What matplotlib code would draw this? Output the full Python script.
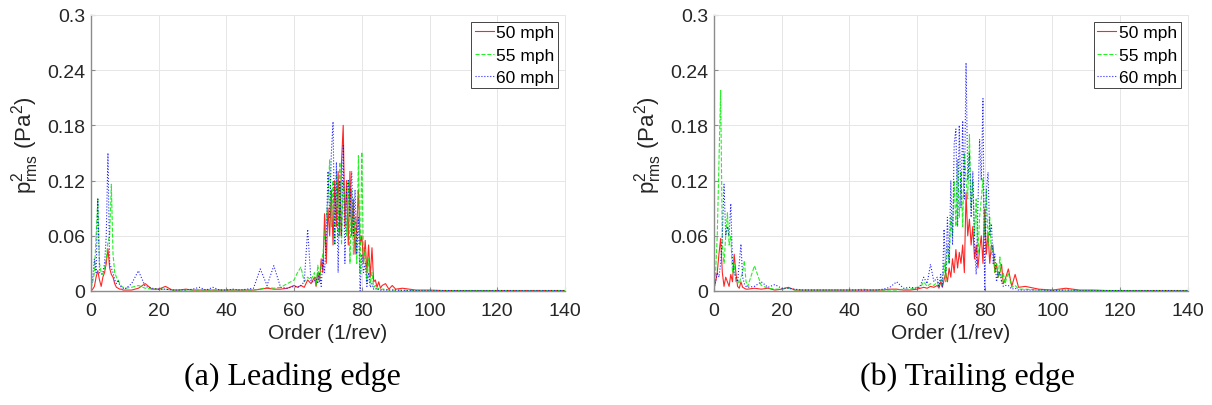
# Pressure spectra vs order, leading edge / trailing edge, three speeds

import numpy as np
import matplotlib
matplotlib.use('Agg')
import matplotlib.pyplot as plt

plt.rcParams['font.family'] = ['Liberation Sans', 'DejaVu Sans']
plt.rcParams['mathtext.fontset'] = 'custom'
plt.rcParams['mathtext.rm'] = 'Liberation Sans'
plt.rcParams['mathtext.it'] = 'Liberation Sans'

# %%
# Order grid (finer where the spectra are busy)
order = np.concatenate([np.arange(0, 10.5, 0.5),    # 0..10   (21)
                        np.arange(12, 61, 2),        # 12..60  (25)
                        np.arange(61, 66, 1),        # 61..65  (5)
                        np.arange(66, 86.5, 0.5),    # 66..86  (41)
                        np.arange(87, 91, 1),        # 87..90  (4)
                        np.arange(92, 141, 4)])      # 92..140 (13)

speeds = ['50 mph', '55 mph', '60 mph']
captions = ['(a) Leading edge', '(b) Trailing edge']

# %%
# Leading edge values
le_50 = ([0, 0.002, 0.005, 0.015, 0.022, 0.012, 0.005, 0.015, 0.02, 0.03,
          0.046, 0.025, 0.018, 0.015, 0.008, 0.004, 0.003, 0.002, 0.002,
          0.001, 0.001]
         + [0.001, 0.003, 0.008, 0.002, 0.002, 0.005, 0.001, 0.001, 0.002,
            0.001, 0.001, 0.001, 0.001, 0.001, 0.001, 0.001, 0.001, 0.001,
            0.001, 0.002, 0.003, 0.002, 0.002, 0.003, 0.006]
         + [0.004, 0.006, 0.004, 0.012, 0.008]
         + [0.015, 0.005, 0.02, 0.01, 0.035, 0.02, 0.084, 0.03, 0.09, 0.06,
            0.11, 0.05, 0.12, 0.07, 0.13, 0.06, 0.14, 0.18, 0.07, 0.12,
            0.05, 0.13, 0.06, 0.10, 0.04, 0.07, 0.11, 0.05, 0.06, 0.03,
            0.055, 0.02, 0.05, 0.015, 0.047, 0.01, 0.012, 0.004, 0.01,
            0.003, 0.006]
         + [0.008, 0.002, 0.006, 0.002]
         + [0.003, 0.001, 0.001, 0.0005, 0.0005, 0.0005, 0.0005, 0.0005,
            0.0005, 0.0005, 0.0005, 0.0005, 0.0005])

le_55 = ([0.003, 0.01, 0.02, 0.06, 0.10, 0.03, 0.02, 0.018, 0.025, 0.035,
          0.053, 0.06, 0.116, 0.04, 0.02, 0.015, 0.012, 0.008, 0.005,
          0.004, 0.003]
         + [0.004, 0.006, 0.003, 0.002, 0.002, 0.002, 0.001, 0.001, 0.001,
            0.001, 0.001, 0.001, 0.001, 0.001, 0.001, 0.001, 0.001, 0.001,
            0.001, 0.002, 0.004, 0.003, 0.004, 0.008, 0.012]
         + [0.02, 0.026, 0.01, 0.015, 0.012]
         + [0.02, 0.006, 0.028, 0.01, 0.03, 0.04, 0.06, 0.08, 0.10, 0.143,
            0.07, 0.12, 0.05, 0.13, 0.06, 0.14, 0.05, 0.12, 0.10, 0.06,
            0.12, 0.03, 0.11, 0.04, 0.08, 0.03, 0.147, 0.02, 0.151, 0.03,
            0.045, 0.01, 0.035, 0.008, 0.02, 0.004, 0.006, 0.002, 0.003,
            0.001, 0.002]
         + [0.002, 0.001, 0.001, 0.001]
         + [0.001, 0.0005, 0.0005, 0.0005, 0.0005, 0.0005, 0.0005, 0.0005,
            0.0005, 0.0005, 0.0005, 0.0005, 0.0005])

le_60 = ([0.002, 0.015, 0.035, 0.02, 0.10, 0.02, 0.018, 0.02, 0.03, 0.06,
          0.15, 0.03, 0.025, 0.02, 0.012, 0.008, 0.012, 0.006, 0.004,
          0.003, 0.002]
         + [0.008, 0.022, 0.005, 0.003, 0.002, 0.002, 0.001, 0.001, 0.001,
            0.002, 0.004, 0.001, 0.004, 0.001, 0.001, 0.002, 0.001, 0.002,
            0.003, 0.024, 0.006, 0.0275, 0.004, 0.003, 0.005]
         + [0.004, 0.006, 0.01, 0.067, 0.01]
         + [0.01, 0.015, 0.008, 0.02, 0.005, 0.035, 0.02, 0.06, 0.13, 0.08,
            0.15, 0.184, 0.05, 0.14, 0.02, 0.12, 0.06, 0.158, 0.03, 0.11,
            0.12, 0.08, 0.13, 0.06, 0.11, 0.04, 0.08, 0.0, 0.04, 0.02,
            0.03, 0.005, 0.02, 0.004, 0.008, 0.002, 0.003, 0.001, 0.002,
            0.001, 0.001]
         + [0.001, 0.001, 0.001, 0.001]
         + [0.0005, 0.0005, 0.0005, 0.0005, 0.0005, 0.0005, 0.0005, 0.0005,
            0.0005, 0.0005, 0.0005, 0.0005, 0.0005])

# %%
# Trailing edge values
te_50 = ([0.002, 0.01, 0.02, 0.04, 0.057, 0.02, 0.005, 0.015, 0.01, 0.005,
          0.018, 0.01, 0.04, 0.02, 0.005, 0.003, 0.01, 0.004, 0.003,
          0.002, 0.002]
         + [0.003, 0.002, 0.003, 0.001, 0.002, 0.004, 0.001, 0.001, 0.001,
            0.001, 0.001, 0.001, 0.001, 0.001, 0.001, 0.001, 0.001, 0.001,
            0.001, 0.001, 0.002, 0.002, 0.001, 0.001, 0.002]
         + [0.003, 0.004, 0.003, 0.005, 0.004]
         + [0.006, 0.003, 0.01, 0.004, 0.012, 0.02, 0.01, 0.025, 0.015,
            0.035, 0.02, 0.045, 0.025, 0.042, 0.03, 0.05, 0.02, 0.107,
            0.06, 0.078, 0.05, 0.07, 0.035, 0.05, 0.025, 0.045, 0.06, 0.03,
            0.089, 0.04, 0.063, 0.03, 0.05, 0.046, 0.02, 0.03, 0.015, 0.02,
            0.029, 0.008, 0.012]
         + [0.024, 0.005, 0.018, 0.004]
         + [0.005, 0.002, 0.001, 0.003, 0.001, 0.001, 0.0005, 0.0005,
            0.0005, 0.0005, 0.0005, 0.0005, 0.0005])

te_55 = ([0.003, 0.02, 0.06, 0.14, 0.218, 0.05, 0.03, 0.06, 0.085, 0.05,
          0.06, 0.02, 0.03, 0.01, 0.012, 0.008, 0.015, 0.02, 0.033, 0.01,
          0.005]
         + [0.0275, 0.006, 0.003, 0.002, 0.002, 0.003, 0.001, 0.001, 0.001,
            0.001, 0.001, 0.001, 0.001, 0.001, 0.001, 0.001, 0.002, 0.001,
            0.001, 0.001, 0.001, 0.001, 0.002, 0.002, 0.004]
         + [0.004, 0.01, 0.005, 0.008, 0.006]
         + [0.01, 0.004, 0.012, 0.006, 0.03, 0.01, 0.05, 0.03, 0.08, 0.06,
            0.12, 0.07, 0.143, 0.08, 0.13, 0.07, 0.15, 0.12, 0.10, 0.17,
            0.09, 0.12, 0.06, 0.10, 0.04, 0.08, 0.10, 0.122, 0.06, 0.11,
            0.05, 0.08, 0.04, 0.05, 0.02, 0.03, 0.015, 0.037, 0.01, 0.02,
            0.008]
         + [0.02, 0.004, 0.006, 0.002]
         + [0.002, 0.001, 0.001, 0.001, 0.0005, 0.0005, 0.0005, 0.0005,
            0.0005, 0.0005, 0.0005, 0.0005, 0.0005])

te_60 = ([0.002, 0.01, 0.02, 0.015, 0.03, 0.06, 0.116, 0.06, 0.07, 0.06,
          0.095, 0.03, 0.02, 0.015, 0.01, 0.03, 0.051, 0.015, 0.008, 0.005,
          0.004]
         + [0.005, 0.01, 0.004, 0.007, 0.003, 0.003, 0.002, 0.001, 0.001,
            0.001, 0.001, 0.001, 0.001, 0.001, 0.001, 0.001, 0.001, 0.001,
            0.001, 0.002, 0.004, 0.01, 0.003, 0.004, 0.003]
         + [0.006, 0.015, 0.008, 0.029, 0.01]
         + [0.015, 0.004, 0.018, 0.005, 0.067, 0.02, 0.08, 0.03, 0.12, 0.05,
            0.16, 0.176, 0.07, 0.18, 0.09, 0.185, 0.10, 0.248, 0.12, 0.15,
            0.08, 0.13, 0.05, 0.018, 0.09, 0.165, 0.12, 0.209, 0.0, 0.11,
            0.129, 0.06, 0.073, 0.03, 0.04, 0.01, 0.02, 0.02, 0.01, 0.005,
            0.006]
         + [0.006, 0.002, 0.003, 0.001]
         + [0.001, 0.001, 0.0005, 0.001, 0.0005, 0.0005, 0.0005, 0.0005,
            0.0005, 0.0005, 0.0005, 0.0005, 0.0005])

panels = [(le_50, le_55, le_60), (te_50, te_55, te_60)]

# %%
# Plot
fig = plt.figure(figsize=(12.12, 4.06), dpi=100)
ax_pos = [[0.0751, 0.2808, 0.391, 0.680], [0.589, 0.2808, 0.391, 0.680]]
caption_x = [0.241, 0.798]
styles = [dict(color='#ff0000', linestyle='-'),
          dict(color='#00ee00', linestyle='--'),
          dict(color='#0000ff', linestyle=':')]

for k in range(2):
    ax = fig.add_axes(ax_pos[k])
    for vals, lab, st in zip(panels[k], speeds, styles):
        ax.plot(order, np.array(vals), linewidth=0.8, alpha=0.85,
                label=lab, **st)
    ax.set_xlim(0, 140)
    ax.set_ylim(0, 0.3)
    ax.set_xticks(np.arange(0, 141, 20))
    ax.set_yticks([0, 0.06, 0.12, 0.18, 0.24, 0.3])
    ax.set_yticklabels(['0', '0.06', '0.12', '0.18', '0.24', '0.3'])
    ax.grid(True, color='#e6e6e6', linewidth=0.7)
    ax.set_axisbelow(True)
    for s in ['top', 'right']:
        ax.spines[s].set_color('#e6e6e6')
        ax.spines[s].set_linewidth(0.7)
    for s in ['left', 'bottom']:
        ax.spines[s].set_color('#8c8c8c')
        ax.spines[s].set_linewidth(1.0)
    ax.tick_params(direction='in', length=3, color='#8c8c8c',
                   labelsize=14, labelcolor='#262626', pad=4)
    ax.tick_params(axis='x', pad=8)
    ax.set_xlabel('Order (1/rev)', fontsize=15, color='#262626',
                  labelpad=3)
    ax.set_ylabel(r'$\mathrm{p}^2_{\mathrm{rms}}$ (Pa$^2$)', fontsize=16,
                  color='#262626')
    ax.yaxis.set_label_coords(-0.105, 0.53)
    leg = ax.legend(loc='upper right', fontsize=12.5, handlelength=1.1,
                    handletextpad=0.15, borderpad=0.2, labelspacing=0.4,
                    borderaxespad=0.4, fancybox=False, framealpha=1)
    leg.get_frame().set_edgecolor('#262626')
    leg.get_frame().set_linewidth(0.6)
    fig.text(caption_x[k], 0.072, captions[k],
             ha='center', va='center', fontsize=23,
             family='Liberation Serif')

fig.savefig('out.png', dpi=100)
